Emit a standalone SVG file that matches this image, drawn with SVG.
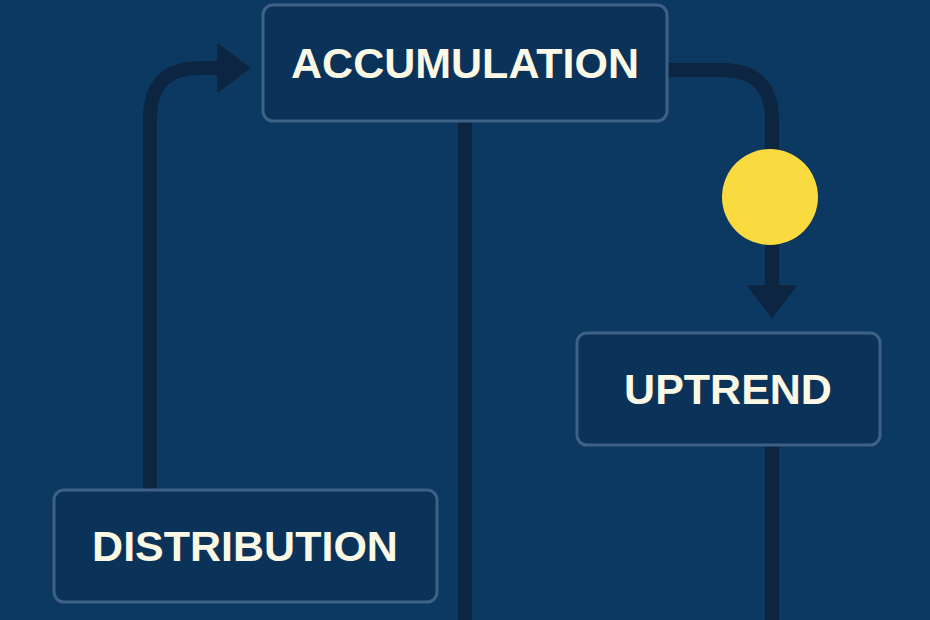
<svg xmlns="http://www.w3.org/2000/svg" width="930" height="620" viewBox="0 0 930 620">
<style>
.box{fill:#0b3359;stroke:#3f6188;stroke-width:3}
.lbl{font-family:"Liberation Sans",Arial,sans-serif;font-weight:bold;font-size:43px;fill:#fbf8e6;text-anchor:middle;dominant-baseline:central}
.ln{fill:none;stroke:#0c2540;stroke-width:14}
</style>
<defs><marker id="ah" markerWidth="2.4" markerHeight="3.6" refX="1.2" refY="1.8" orient="auto" markerUnits="strokeWidth" viewBox="0 0 2.4 3.6"><path d="M0,0L2.4,1.8L0,3.6Z" fill="#0c2540"/></marker></defs>
<rect width="930" height="620" fill="#0c3962"/>
<g id="connectors">
<path class="ln" d="M150,490V118Q150,68 200,68H234" marker-end="url(#ah)"/>
<path class="ln" d="M465,121V620"/>
<path class="ln" d="M667,70H722Q772,70 772,120V302" marker-end="url(#ah)"/>
<path class="ln" d="M772,445V620"/>
</g>
<g id="accumulation"><rect class="box" x="263" y="5" width="404" height="116" rx="10"/><text class="lbl" x="465" y="63">ACCUMULATION</text></g>
<g id="uptrend"><rect class="box" x="577" y="333" width="303" height="112" rx="10"/><text class="lbl" x="728" y="389">UPTREND</text></g>
<g id="distribution"><rect class="box" x="54" y="490" width="383" height="112" rx="10"/><text class="lbl" x="245" y="546">DISTRIBUTION</text></g>
<g id="marker-dot"><circle cx="770" cy="197" r="48" fill="#fadb3f"/></g>
</svg>
